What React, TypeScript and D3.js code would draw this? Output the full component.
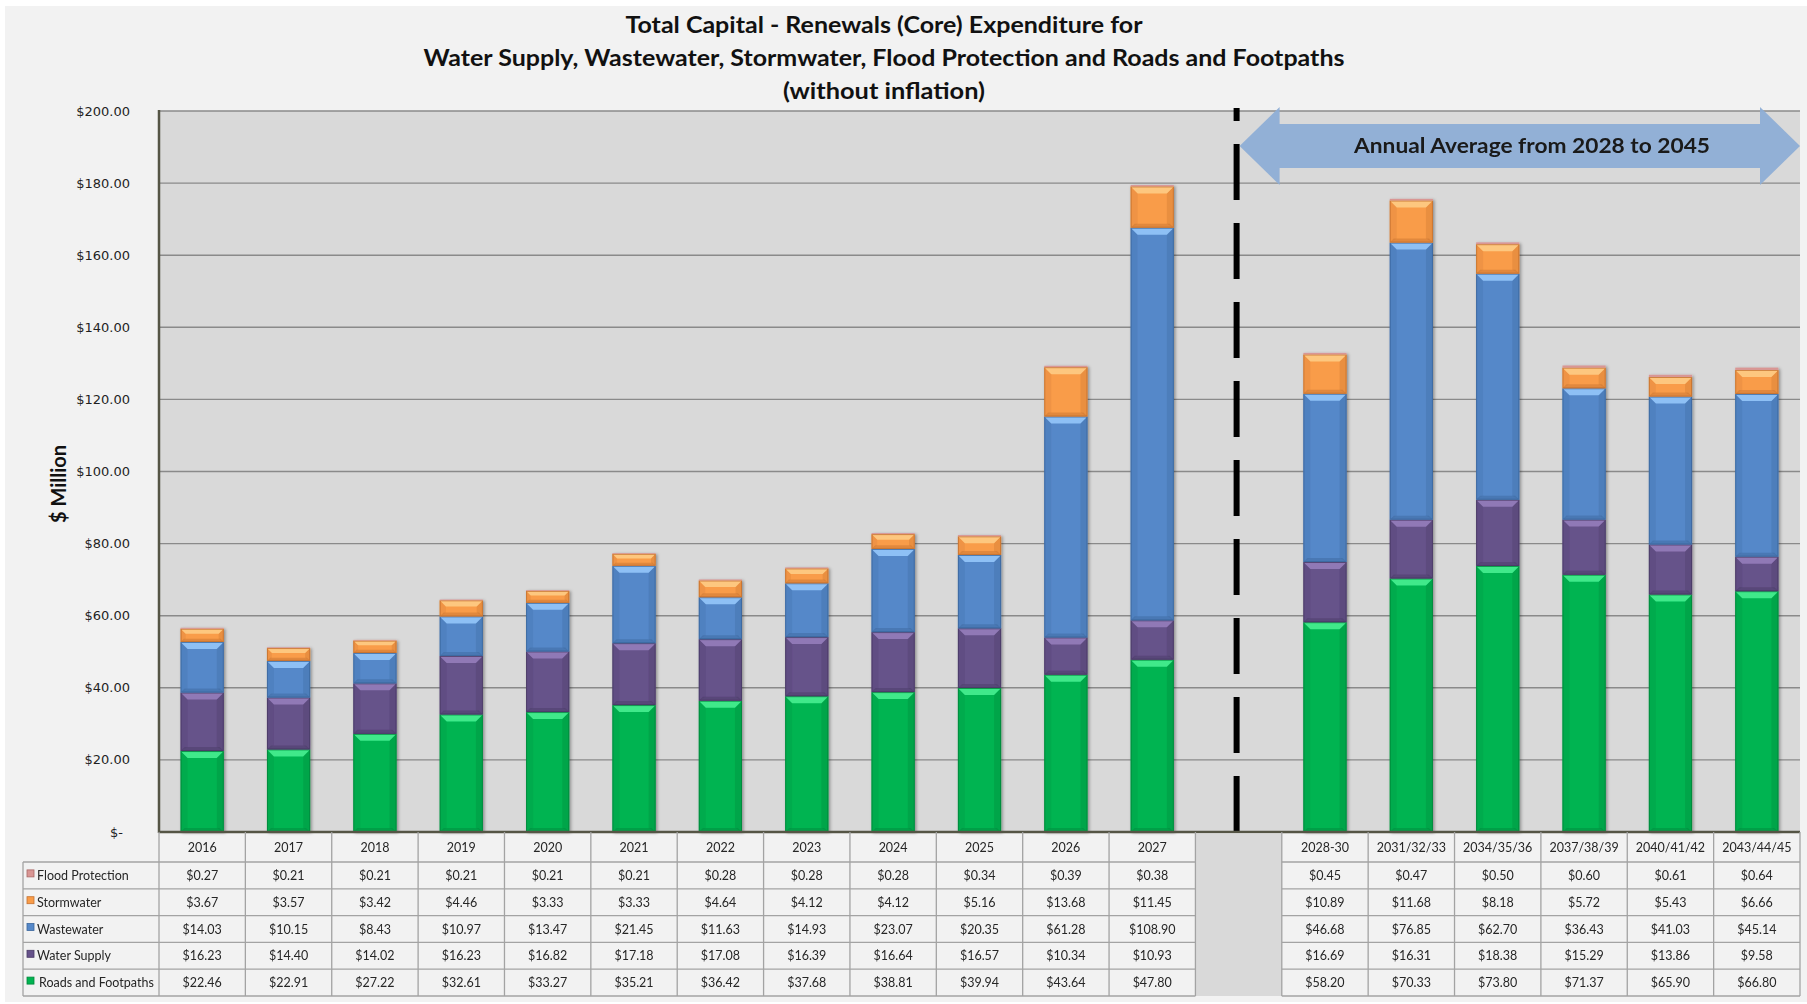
import React, { useEffect } from "react";
import * as d3 from "d3";

const years = ["2016","2017","2018","2019","2020","2021","2022","2023","2024","2025","2026","2027"];
const periods = ["2028-30","2031/32/33","2034/35/36","2037/38/39","2040/41/42","2043/44/45"];
const GAP = "__gap";
const labels = [...years, ...periods];

const roads = [22.46,22.91,27.22,32.61,33.27,35.21,36.42,37.68,38.81,39.94,43.64,47.80,58.20,70.33,73.80,71.37,65.90,66.80];
const waterSupply = [16.23,14.40,14.02,16.23,16.82,17.18,17.08,16.39,16.64,16.57,10.34,10.93,16.69,16.31,18.38,15.29,13.86,9.58];
const wastewater = [14.03,10.15,8.43,10.97,13.47,21.45,11.63,14.93,23.07,20.35,61.28,108.90,46.68,76.85,62.70,36.43,41.03,45.14];
const stormwater = [3.67,3.57,3.42,4.46,3.33,3.33,4.64,4.12,4.12,5.16,13.68,11.45,10.89,11.68,8.18,5.72,5.43,6.66];
const flood = [0.27,0.21,0.21,0.21,0.21,0.21,0.28,0.28,0.28,0.34,0.39,0.38,0.45,0.47,0.50,0.60,0.61,0.64];

const yTicks = [0,20,40,60,80,100,120,140,160,180,200];

const titleLines = [
  "Total Capital - Renewals (Core) Expenditure for",
  "Water Supply, Wastewater, Stormwater, Flood Protection and Roads and Footpaths",
  "(without inflation)",
];
const arrowText = "Annual Average from 2028 to 2045";
const yAxisTitle = "$ Million";

type Series = { key: string; name: string; values: number[]; base: string; light: string; dark: string };
const series: Series[] = [
  { key: "roads", name: "Roads and Footpaths", values: roads, base: "#00b451", light: "#3fe98a", dark: "#00863b" },
  { key: "water", name: "Water Supply", values: waterSupply, base: "#66528a", light: "#9079b6", dark: "#483a64" },
  { key: "waste", name: "Wastewater", values: wastewater, base: "#5588c9", light: "#8ec0f5", dark: "#3b669c" },
  { key: "storm", name: "Stormwater", values: stormwater, base: "#f99c48", light: "#fdc77f", dark: "#c37030" },
  { key: "flood", name: "Flood Protection", values: flood, base: "#d99694", light: "#efc0bf", dark: "#a86664" },
];
const tableOrder = ["flood", "storm", "waste", "water", "roads"];

const W = 1807, H = 1004;
const plotL = 159, plotR = 1800, plotT = 111, plotB = 832;
const tableL = 23;
const headerB = 862, tableB = 996;

const FONT = "Lato, 'Open Sans', sans-serif";

export default function App() {
  useEffect(() => {
    document.body.style.margin = "0";
  }, []);

  const cats = [...years, GAP, ...periods];
  const x = d3.scaleBand<string>().domain(cats).range([plotL, plotR]).padding(0);
  const y = d3.scaleLinear().domain([0, 200]).range([plotB, plotT]);
  const bw = x.bandwidth();
  const barW = bw * 0.5;

  const rows = labels.map((lab, i) => {
    const r: any = { label: lab };
    series.forEach((s) => (r[s.key] = s.values[i]));
    return r;
  });
  const stack = d3.stack<any>().keys(series.map((s) => s.key));
  const stacked = stack(rows);

  const rowH = (tableB - headerB) / tableOrder.length;
  const money = d3.format("$.2f");
  const tickFmt = (v: number) => (v === 0 ? "$-" : d3.format("$,.2f")(v));

  const leftCols = years.map((c) => x(c)!);
  const rightCols = periods.map((c) => x(c)!);
  const gapX = x(GAP)!;
  const lineX = gapX + bw / 2 - 2;

  const seg = (sx: number, y0: number, y1: number, s: Series, k: string) => {
    const h = y1 - y0;
    if (h <= 0) return null;
    if (h < 4) {
      return <rect key={k} x={sx} y={y0} width={barW} height={h} fill={s.base} />;
    }
    const b = Math.min(7, h / 2.6);
    const bb = Math.min(4, h / 4);
    return (
      <g key={k}>
        <rect x={sx} y={y0} width={barW} height={h} fill={s.base} />
        <polygon points={`${sx},${y1} ${sx + barW},${y1} ${sx + barW - bb},${y1 - bb} ${sx + bb},${y1 - bb}`} fill={s.dark} opacity={0.45} />
        <polygon points={`${sx},${y0} ${sx + b},${y0 + b} ${sx + b},${y1 - bb} ${sx},${y1}`} fill={s.dark} opacity={0.18} />
        <polygon points={`${sx + barW},${y0} ${sx + barW - b},${y0 + b} ${sx + barW - b},${y1 - bb} ${sx + barW},${y1}`} fill={s.dark} opacity={0.3} />
        <polygon points={`${sx},${y0} ${sx + barW},${y0} ${sx + barW - b},${y0 + b} ${sx + b},${y0 + b}`} fill={s.light} />
        <rect x={sx + 0.5} y={y0 + 0.5} width={barW - 1} height={h - 1} fill="none" stroke={s.dark} strokeWidth={1} opacity={0.8} />
      </g>
    );
  };

  const arrowY = 146, shaftHalf = 22, headHalf = 39, headLen = 40;
  const aL = gapX + bw / 2 + 1, aR = plotR;
  const arrowPts = [
    [aL, arrowY],
    [aL + headLen, arrowY - headHalf],
    [aL + headLen, arrowY - shaftHalf],
    [aR - headLen, arrowY - shaftHalf],
    [aR - headLen, arrowY - headHalf],
    [aR, arrowY],
    [aR - headLen, arrowY + headHalf],
    [aR - headLen, arrowY + shaftHalf],
    [aL + headLen, arrowY + shaftHalf],
    [aL + headLen, arrowY + headHalf],
  ].map((p) => p.join(",")).join(" ");

  return (
    <svg width={W} height={H} style={{ display: "block" }} xmlns="http://www.w3.org/2000/svg">
      <defs>
        <filter id="sh" x="-20%" y="-5%" width="140%" height="110%">
          <feDropShadow dx="1.5" dy="1" stdDeviation="1.5" floodColor="#000" floodOpacity="0.35" />
        </filter>
      </defs>
      <rect x={0} y={0} width={W} height={H} fill="#ffffff" />
      <rect x={5} y={6} width={W - 5} height={H - 8} fill="#f2f2f2" />

      {/* titles */}
      {titleLines.map((t, i) => (
        <text key={i} x={884} y={33 + i * 33} textAnchor="middle" fontFamily={FONT} fontWeight={700} fontSize={22} fill="#111"
          textLength={[517, 921, 202][i]} lengthAdjust="spacingAndGlyphs">{t}</text>
      ))}

      {/* plot area */}
      <rect x={plotL} y={plotT} width={plotR - plotL} height={plotB - plotT} fill="#d9d9d9" />
      {yTicks.filter((v) => v > 0).map((v) => (
        <line key={v} x1={plotL} x2={plotR} y1={y(v)} y2={y(v)} stroke="#8a8a8a" strokeWidth={1.4} />
      ))}
      {yTicks.map((v) => (
        <text key={"t" + v} x={v === 0 ? 123 : 130} y={y(v) + 4.5} textAnchor="end" fontFamily="'DejaVu Sans', Verdana, sans-serif" fontSize={13} fill="#1f1f1f">{tickFmt(v)}</text>
      ))}
      <text transform={`translate(66,484) rotate(-90)`} textAnchor="middle" fontFamily={FONT} fontWeight={700} fontSize={20} fill="#111">{yAxisTitle}</text>

      {/* bars */}
      <g filter="url(#sh)">
        {labels.map((lab, i) => {
          const sx = x(lab)! + (bw - barW) / 2;
          return (
            <g key={lab}>
              {stacked.map((layer, si) => seg(sx, y(layer[i][1]), y(layer[i][0]), series[si], lab + si))}
            </g>
          );
        })}
      </g>

      {/* dashed separator */}
      <line x1={lineX} x2={lineX} y1={plotB} y2={108} stroke="#000" strokeWidth={6} strokeDasharray="56 23" />

      {/* arrow */}
      <polygon points={arrowPts} fill="#8eaed6" opacity={0.95} />
      <text x={1532} y={153} textAnchor="middle" fontFamily={FONT} fontWeight={700} fontSize={20} fill="#1a1a1a"
        textLength={356} lengthAdjust="spacingAndGlyphs">{arrowText}</text>

      {/* axis lines */}
      <line x1={plotL} x2={plotL} y1={plotT - 1} y2={plotB + 1} stroke="#555545" strokeWidth={2.5} />
      <line x1={plotL} x2={plotR} y1={plotB} y2={plotB} stroke="#555545" strokeWidth={2.5} />

      {/* table */}
      <rect x={gapX} y={plotB + 1.5} width={bw} height={tableB - plotB - 1.5} fill="#d9d9d9" />
      <g stroke="#a3a3a3" strokeWidth={1.3}>
        {[...leftCols, gapX].map((cx, i) => (
          <line key={"lv" + i} x1={cx} x2={cx} y1={plotB} y2={tableB} />
        ))}
        {[...rightCols, plotR].map((cx, i) => (
          <line key={"rv" + i} x1={cx} x2={cx} y1={plotB} y2={tableB} />
        ))}
        <line x1={tableL} x2={tableL} y1={headerB} y2={tableB} />
        {d3.range(tableOrder.length + 1).map((r) => (
          <g key={"h" + r}>
            <line x1={tableL} x2={gapX} y1={headerB + r * rowH} y2={headerB + r * rowH} />
            <line x1={x(periods[0])!} x2={plotR} y1={headerB + r * rowH} y2={headerB + r * rowH} />
          </g>
        ))}
      </g>
      {labels.map((lab) => (
        <text key={"hd" + lab} x={x(lab)! + bw / 2} y={(plotB + headerB) / 2 + 5} textAnchor="middle" fontFamily={FONT} fontSize={12.5} fill="#262626">{lab}</text>
      ))}
      {tableOrder.map((k, r) => {
        const s = series.find((q) => q.key === k)!;
        const cy = headerB + r * rowH + rowH / 2 + 4.5;
        return (
          <g key={"row" + k}>
            <rect x={tableL + 4} y={cy - 10} width={7} height={7} fill={s.base} stroke={s.dark} strokeWidth={0.8} />
            <text x={k === "roads" ? tableL + 16 : tableL + 14} y={cy} fontFamily={FONT} fontSize={12.5} fill="#262626">{s.name}</text>
            {labels.map((lab, i) => (
              <text key={lab} x={x(lab)! + bw / 2} y={cy} textAnchor="middle" fontFamily={FONT} fontSize={12.5} fill="#262626">{money(s.values[i])}</text>
            ))}
          </g>
        );
      })}
    </svg>
  );
}
